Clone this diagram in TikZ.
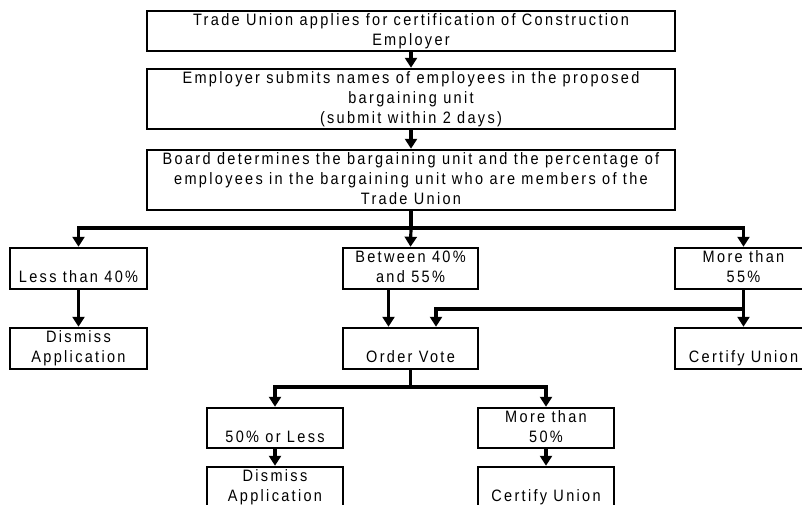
\documentclass[tikz,border=0pt]{standalone}
\usepackage{fontspec}
\setmainfont{Liberation Sans}[LetterSpace=14,FakeStretch=0.88]
\usetikzlibrary{arrows.meta}
\tikzset{
  box/.style={draw, line width=2.5pt, inner sep=0pt, align=center,
    font=\fontsize{16.5}{20}\selectfont},
  con/.style={line width=3.2pt},
  arr/.style={line width=3.2pt, -{Triangle[length=10pt,width=12pt]}},
}
\newcommand{\sline}{\rule{0pt}{14pt}\rule[-6pt]{0pt}{6pt}}
\begin{document}
\begin{tikzpicture}[x=1pt,y=-1pt]
\clip (0,0) rectangle (802,504);
\fill[white] (0,0) rectangle (802,504);
\node[box, minimum width=528pt, minimum height=40pt] (b1) at (411,31)
  {\sline Trade Union applies for certification of Construction\\\sline Employer};
\node[box, minimum width=528pt, minimum height=60pt] (b2) at (411,99)
  {\sline Employer submits names of employees in the proposed\\\sline bargaining unit\\\sline (submit within 2 days)};
\node[box, minimum width=528pt, minimum height=60pt] (b3) at (411,180)
  {\sline Board determines the bargaining unit and the percentage of\\\sline employees in the bargaining unit who are members of the\\\sline Trade Union};
\node[box, minimum width=137pt, minimum height=41pt] (l1) at (78.5,268.5)
  {\sline\\\sline Less than 40\%};
\node[box, minimum width=135pt, minimum height=41pt] (l2) at (410.5,268.5)
  {\sline Between 40\%\\\sline and 55\%};
\node[box, minimum width=137pt, minimum height=41pt] (l3) at (743.5,268.5)
  {\sline More than\\\sline 55\%};
\node[box, minimum width=137pt, minimum height=41pt] (d1) at (78.5,348.5)
  {\sline Dismiss\\\sline Application};
\node[box, minimum width=135pt, minimum height=41pt] (ov) at (410.5,348.5)
  {\sline\\\sline Order Vote};
\node[box, minimum width=137pt, minimum height=41pt] (cu) at (743.5,348.5)
  {\sline\\\sline Certify Union};
\node[box, minimum width=136pt, minimum height=40pt] (p1) at (275,428)
  {\sline\\\sline 50\% or Less};
\node[box, minimum width=136pt, minimum height=40pt] (p2) at (546,428)
  {\sline More than\\\sline 50\%};
\node[box, minimum width=136pt, minimum height=41pt] (d2) at (275,487.5)
  {\sline Dismiss\\\sline Application};
\node[box, minimum width=136pt, minimum height=41pt] (c2) at (546,487.5)
  {\sline\\\sline Certify Union};
\coordinate (j1) at (411,228);
\coordinate (j2) at (743.5,309);
\coordinate (j3) at (410.5,387);
\draw[arr] (b1.south) -- (b2.north);
\draw[arr] (b2.south) -- (b3.north);
\draw[con] (b3.south) -- (j1);
\draw[arr] (j1) -| (l1.north);
\draw[arr] (j1) -| (l3.north);
\draw[arr] (j1) -- (l2.north);
\draw[arr] (l1.south) -- (d1.north);
\draw[arr] ([xshift=-22pt]l2.south) -- ([xshift=-22pt]ov.north);
\draw[arr] (l3.south) -- (cu.north);
\draw[arr] (j2) -| ([xshift=25.5pt]ov.north);
\draw[con] (ov.south) -- (j3);
\draw[arr] (j3) -| (p1.north);
\draw[arr] (j3) -| (p2.north);
\draw[arr] (p1.south) -- (d2.north);
\draw[arr] (p2.south) -- (c2.north);
\end{tikzpicture}
\end{document}
